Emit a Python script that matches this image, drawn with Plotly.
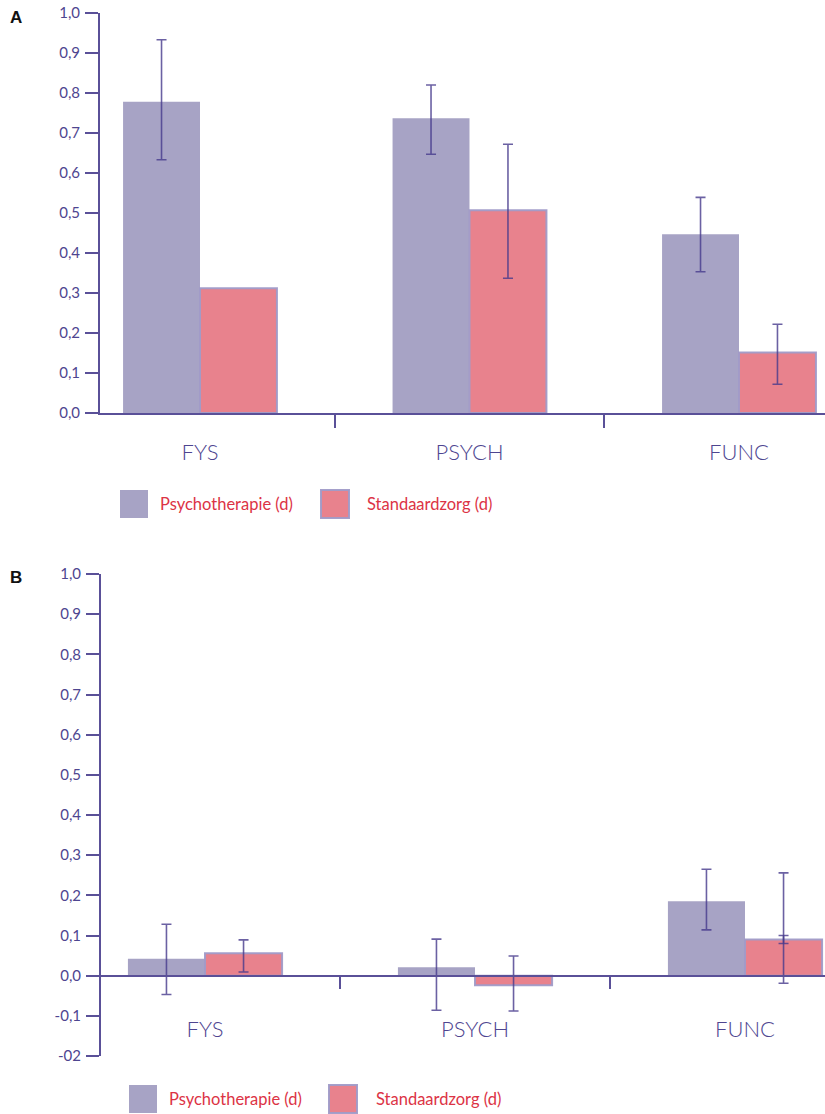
import plotly.graph_objects as go

# ---------------- data ----------------
categories = ["FYS", "PSYCH", "FUNC"]
series_names = ["Psychotherapie (d)", "Standaardzorg (d)"]

# Panel A
a_psych = [0.778, 0.737, 0.447]
a_psych_hi = [0.933, 0.820, 0.539]
a_psych_lo = [0.633, 0.647, 0.353]
a_std = [0.312, 0.507, 0.151]
a_std_hi = [None, 0.672, 0.222]
a_std_lo = [None, 0.337, 0.072]

# Panel B
b_psych = [0.042, 0.021, 0.185]
b_psych_hi = [0.128, 0.091, 0.265]
b_psych_lo = [-0.047, -0.086, 0.114]
b_std = [0.056, -0.024, 0.090]
b_std_hi = [0.089, 0.049, 0.256]
b_std_lo = [0.009, -0.088, -0.019]
b_std_inner_hi = [None, None, 0.100]
b_std_inner_lo = [None, None, 0.080]

a_tickvals = [0.0, 0.1, 0.2, 0.3, 0.4, 0.5, 0.6, 0.7, 0.8, 0.9, 1.0]
a_ticktext = ["0,0", "0,1", "0,2", "0,3", "0,4", "0,5", "0,6", "0,7", "0,8", "0,9", "1,0"]
b_tickvals = [-0.2, -0.1, 0.0, 0.1, 0.2, 0.3, 0.4, 0.5, 0.6, 0.7, 0.8, 0.9, 1.0]
b_ticktext = ["-02", "-0,1", "0,0", "0,1", "0,2", "0,3", "0,4", "0,5", "0,6", "0,7", "0,8", "0,9", "1,0"]

# ---------------- style ----------------
W, H = 825, 1114
C_PSYCH = "#a7a3c5"
C_STD = "#e8828d"
C_STD_LINE = "rgba(160,155,200,0.95)"
C_AXIS = "#5a5098"
C_TEXT = "#4e4590"
C_ERR = "rgba(70,58,140,0.8)"
C_LEG = "#dc3345"
FONT = "Lato"


def px_x(p):
    return p / W


def px_y(p):
    return 1 - p / H


def masked(vals, hi):
    return [v if h is not None else None for v, h in zip(vals, hi)]


def err(vals, hi, lo):
    up = [(h - v) if h is not None else 0 for v, h in zip(vals, hi)]
    dn = [(v - l) if l is not None else 0 for v, l in zip(vals, lo)]
    return dict(type="data", symmetric=False, array=up, arrayminus=dn,
                color=C_ERR, thickness=1.6, width=5)


fig = go.Figure()


def add_series(vals, hi, lo, name, group, color, line, xa, ya):
    fig.add_trace(go.Bar(x=categories, y=vals, name=name, offsetgroup=group,
                         marker=dict(color=color, line=line),
                         xaxis=xa, yaxis=ya, showlegend=False))
    # error bars drawn on an invisible overlay so that points without an interval get none
    fig.add_trace(go.Bar(x=categories, y=masked(vals, hi), name=name, offsetgroup=group,
                         marker=dict(color="rgba(0,0,0,0)", line=dict(width=0)),
                         error_y=err(vals, hi, lo), hoverinfo="skip",
                         xaxis=xa, yaxis=ya, showlegend=False))


std_line = dict(color=C_STD_LINE, width=2)
add_series(a_psych, a_psych_hi, a_psych_lo, series_names[0], "p", C_PSYCH, dict(width=0), "x", "y")
add_series(a_std, a_std_hi, a_std_lo, series_names[1], "s", C_STD, std_line, "x", "y")
add_series(b_psych, b_psych_hi, b_psych_lo, series_names[0], "p", C_PSYCH, dict(width=0), "x2", "y2")
add_series(b_std, b_std_hi, b_std_lo, series_names[1], "s", C_STD, std_line, "x2", "y2")
fig.add_trace(go.Bar(x=categories, y=masked(b_std, b_std_inner_hi), name=series_names[1], offsetgroup="s",
                     marker=dict(color="rgba(0,0,0,0)", line=dict(width=0)),
                     error_y=err(b_std, b_std_inner_hi, b_std_inner_lo), hoverinfo="skip",
                     xaxis="x2", yaxis="y2", showlegend=False))

# axes geometry (pixels from reference)
A_left, A_top, A_bot, A_step, A_c0 = 100, 13, 413, 269.5, 200
B_left, B_top, B_bot, B_step, B_c0 = 101, 574, 1056, 270, 205

a_r0 = -(A_c0 - A_left) / A_step
a_r1 = a_r0 + (W - A_left) / A_step
b_r0 = -(B_c0 - B_left) / B_step
b_r1 = b_r0 + (W - B_left) / B_step

yB_dom = [px_y(B_bot), px_y(B_top)]
b_zero_pos = yB_dom[0] + (yB_dom[1] - yB_dom[0]) * (0.2 / 1.2)

xcommon = dict(type="category", tickson="boundaries", ticks="outside", ticklen=13,
               tickwidth=1.5, tickcolor=C_AXIS, showline=True, linecolor=C_AXIS,
               linewidth=1.5, showgrid=False, zeroline=False, automargin=False,
               tickfont=dict(family=FONT, size=22, color=C_TEXT, weight=300),
               fixedrange=True)
ycommon = dict(ticks="outside", ticklen=13, tickwidth=2, tickcolor=C_AXIS,
               showline=True, linecolor=C_AXIS, linewidth=2, showgrid=False,
               zeroline=False, automargin=False, ticklabelstandoff=2,
               tickfont=dict(family=FONT, size=15, color=C_TEXT), fixedrange=True)

fig.update_layout(
    width=W, height=H,
    margin=dict(l=0, r=0, t=0, b=0, autoexpand=False),
    paper_bgcolor="white", plot_bgcolor="white",
    barmode="group", bargap=0.429, bargroupgap=0,
    xaxis=dict(xcommon, domain=[px_x(A_left), 1], range=[a_r0, a_r1], anchor="y",
               ticklabelstandoff=19),
    yaxis=dict(ycommon, domain=[px_y(A_bot), px_y(A_top)], range=[0, 1.0],
               tickvals=a_tickvals, ticktext=a_ticktext, anchor="x"),
    xaxis2=dict(xcommon, domain=[px_x(B_left), 1], range=[b_r0, b_r1], anchor="free",
                position=b_zero_pos, ticklabelstandoff=34),
    yaxis2=dict(ycommon, domain=yB_dom, range=[-0.2, 1.0],
                tickvals=b_tickvals, ticktext=b_ticktext, anchor="x2"),
)

shapes = []
annotations = []


def legend(sq1_x, sq2_x, y0, y1, t1_x, t2_x, size):
    for i, (sx, tx, col) in enumerate([(sq1_x, t1_x, C_PSYCH), (sq2_x, t2_x, C_STD)]):
        shapes.append(dict(type="rect", xref="paper", yref="paper",
                           x0=px_x(sx[0]), x1=px_x(sx[1]), y0=px_y(y1), y1=px_y(y0),
                           fillcolor=col,
                           line=dict(color=C_STD_LINE if i == 1 else col, width=2 if i == 1 else 0)))
        annotations.append(dict(xref="paper", yref="paper", x=px_x(tx), y=px_y((y0 + y1) / 2),
                                xanchor="left", yanchor="middle", showarrow=False,
                                text=series_names[i],
                                font=dict(family=FONT, size=size, color=C_LEG)))


legend((120, 148), (321, 349), 490, 518, 158, 365, 16.5)
legend((129, 157), (329, 357), 1085, 1113, 167, 374, 16.5)

for lab, yy in [("A", 18), ("B", 578)]:
    annotations.append(dict(xref="paper", yref="paper", x=px_x(8), y=px_y(yy),
                            xanchor="left", yanchor="middle", showarrow=False, text="<b>%s</b>" % lab,
                            font=dict(family="Liberation Sans", size=17, color="#111111")))

fig.update_layout(shapes=shapes, annotations=annotations)
fig.write_html("out.html", config={"displayModeBar": False},
               post_script="document.body.style.margin='0';document.body.style.overflow='hidden';")
